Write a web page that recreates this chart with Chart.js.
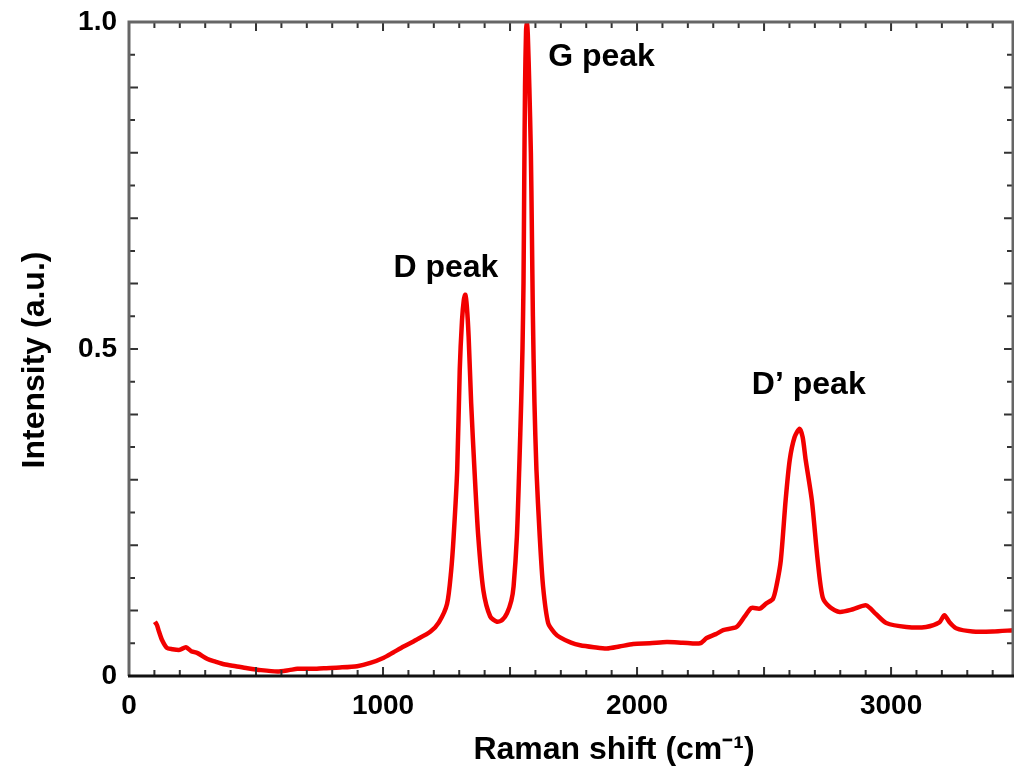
<!DOCTYPE html>
<html>
<head>
<meta charset="utf-8">
<script src="https://cdn.jsdelivr.net/npm/chart.js@4.4.1/dist/chart.umd.min.js"></script>
<style>
  html, body { margin: 0; padding: 0; background: #ffffff; }
  #wrap { width: 1014px; height: 773px; position: relative; }
</style>
</head>
<body>
<div id="wrap"><canvas id="c" width="1014" height="773"></canvas></div>
<script>
// ---- data ----
const ramanShift = [
  102, 110, 118, 130, 149, 170, 200, 224, 245, 270, 309, 340, 374, 420, 466, 520, 584, 630, 663, 720,
  767, 830, 898, 950, 1003, 1040, 1081, 1130, 1187, 1220, 1252, 1268, 1278, 1292, 1302, 1311, 1318, 1324, 1330, 1337,
  1347, 1360, 1375, 1395, 1422, 1449, 1470, 1488, 1505, 1514, 1527, 1536, 1544, 1549, 1553, 1556, 1559, 1563, 1566, 1570,
  1576, 1582, 1586, 1590, 1596, 1604, 1617, 1630, 1650, 1675, 1697, 1740, 1776, 1830, 1881, 1930, 1985, 2050, 2117, 2180,
  2248, 2274, 2310, 2339, 2392, 2424, 2450, 2483, 2509, 2535, 2550, 2566, 2585, 2601, 2620, 2640, 2652, 2664, 2688, 2711,
  2731, 2760, 2798, 2850, 2902, 2940, 2981, 3060, 3138, 3190, 3210, 3230, 3256, 3321, 3400, 3480
];
const intensity = [
  0.083, 0.078, 0.068, 0.055, 0.043, 0.041, 0.040, 0.044, 0.038, 0.035, 0.026, 0.022, 0.018, 0.015, 0.012, 0.009, 0.007, 0.009, 0.011, 0.011,
  0.012, 0.013, 0.015, 0.020, 0.028, 0.036, 0.045, 0.055, 0.068, 0.082, 0.110, 0.160, 0.213, 0.315, 0.468, 0.544, 0.575, 0.583, 0.565, 0.519,
  0.417, 0.315, 0.213, 0.131, 0.091, 0.083, 0.086, 0.096, 0.115, 0.137, 0.213, 0.315, 0.420, 0.500, 0.600, 0.760, 0.900, 0.985, 1.000, 0.980,
  0.900, 0.800, 0.680, 0.550, 0.420, 0.315, 0.213, 0.137, 0.081, 0.066, 0.059, 0.051, 0.047, 0.044, 0.042, 0.045, 0.049, 0.050, 0.052, 0.051,
  0.050, 0.058, 0.064, 0.070, 0.075, 0.091, 0.104, 0.103, 0.111, 0.118, 0.140, 0.177, 0.269, 0.330, 0.365, 0.378, 0.365, 0.330, 0.269, 0.177,
  0.120, 0.105, 0.098, 0.102, 0.108, 0.095, 0.081, 0.075, 0.075, 0.082, 0.093, 0.082, 0.073, 0.068, 0.068, 0.070
];
const xTickValues = [0, 1000, 2000, 3000];
const xTickLabels = ['0', '1000', '2000', '3000'];
const yTickValues = [0, 0.5, 1.0];
const yTickLabels = ['0', '0.5', '1.0'];
const peakLabels = ['D peak', 'G peak', 'D\u2019 peak'];
const peakLabelX = [1041, 1650, 2452];
const peakLabelY = [0.624, 0.946, 0.445];
const xTitle = 'Raman shift (cm\u207B\u00B9)';
const yTitle = 'Intensity (a.u.)';

const points = ramanShift.map((x, i) => ({ x: x, y: intensity[i] }));
const FONT = '"Liberation Sans", Arial, Helvetica, sans-serif';

const framePlugin = {
  id: 'frame',
  afterDatasetsDraw(chart) {
    const { ctx, chartArea: a, scales } = chart;
    const xs = scales.x, ys = scales.y;
    ctx.save();
    // inward ticks
    ctx.strokeStyle = '#333';
    ctx.lineWidth = 2;
    for (let v = 100; v <= xs.max; v += 100) {
      const px = xs.getPixelForValue(v);
      const len = (v % 500 === 0) ? 9 : 6;
      ctx.beginPath();
      ctx.moveTo(px, a.bottom); ctx.lineTo(px, a.bottom - len);
      ctx.moveTo(px, a.top); ctx.lineTo(px, a.top + len);
      ctx.stroke();
    }
    for (let k = 1; k < 20; k++) {
      const v = k * 0.05;
      const py = ys.getPixelForValue(v);
      const len = (k % 2 === 0) ? 9 : 6;
      ctx.beginPath();
      ctx.moveTo(a.left, py); ctx.lineTo(a.left + len, py);
      ctx.moveTo(a.right, py); ctx.lineTo(a.right - len, py);
      ctx.stroke();
    }
    // frame
    ctx.lineWidth = 3;
    ctx.strokeStyle = '#666';
    ctx.beginPath();
    ctx.moveTo(a.left, a.bottom); ctx.lineTo(a.left, a.top); ctx.lineTo(a.right, a.top); ctx.lineTo(a.right, a.bottom);
    ctx.stroke();
    ctx.strokeStyle = '#111';
    ctx.beginPath();
    ctx.moveTo(a.left - 1, a.bottom); ctx.lineTo(a.right + 1, a.bottom);
    ctx.stroke();
    // peak annotations
    ctx.fillStyle = '#000';
    ctx.font = 'bold 32px ' + FONT;
    ctx.textAlign = 'left';
    ctx.textBaseline = 'middle';
    peakLabels.forEach((t, i) => {
      ctx.fillText(t, xs.getPixelForValue(peakLabelX[i]), ys.getPixelForValue(peakLabelY[i]));
    });
    // axis titles
    ctx.font = 'bold 32px ' + FONT;
    ctx.textAlign = 'center';
    ctx.fillText(xTitle, 614, 750);
    ctx.save();
    ctx.translate(35, 360);
    ctx.rotate(-Math.PI / 2);
    ctx.fillText(yTitle, 0, 0);
    ctx.restore();
    ctx.restore();
  }
};

new Chart(document.getElementById('c'), {
  type: 'line',
  data: {
    datasets: [{
      data: points,
      borderColor: '#f20000',
      borderWidth: 4.5,
      pointRadius: 0,
      tension: 0.25,
      fill: false
    }]
  },
  options: {
    responsive: false,
    animation: false,
    layout: { padding: { top: 22, right: 1, left: 0, bottom: 0 } },
    plugins: { legend: { display: false }, tooltip: { enabled: false } },
    scales: {
      x: {
        type: 'linear',
        min: 0,
        max: 3480,
        grid: { display: false },
        border: { display: false },
        afterBuildTicks: (s) => { s.ticks = xTickValues.map(v => ({ value: v })); },
        afterFit: (s) => { s.height = 97; },
        ticks: {
          autoSkip: false,
          maxRotation: 0,
          padding: 5,
          color: '#000',
          font: { family: FONT, size: 28, weight: 'bold' },
          callback: (v) => xTickLabels[xTickValues.indexOf(v)]
        }
      },
      y: {
        type: 'linear',
        min: 0,
        max: 1,
        grid: { display: false },
        border: { display: false },
        afterBuildTicks: (s) => { s.ticks = yTickValues.map(v => ({ value: v })); },
        afterFit: (s) => { s.width = 129; },
        ticks: {
          autoSkip: false,
          padding: 4,
          color: '#000',
          font: { family: FONT, size: 28, weight: 'bold' },
          callback: (v) => yTickLabels[yTickValues.indexOf(v)]
        }
      }
    }
  },
  plugins: [framePlugin]
});
</script>
</body>
</html>
